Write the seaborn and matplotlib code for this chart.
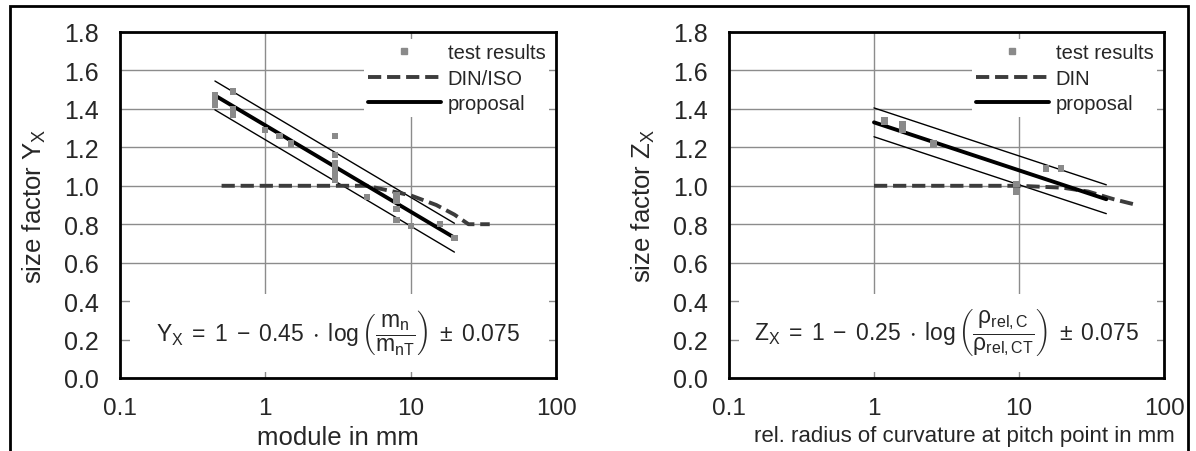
import numpy as np
import pandas as pd
import matplotlib
matplotlib.use("Agg")
import matplotlib.pyplot as plt
import seaborn as sns
from matplotlib.lines import Line2D
from matplotlib.patches import Rectangle
from matplotlib.ticker import FixedLocator, NullLocator

# --- Y_X : module (left panel) ---
yx_test_m = [0.45, 0.45, 0.45, 0.45, 0.6, 0.6, 0.6, 1.0, 1.25, 1.5,
             3, 3, 3, 3, 3, 3, 5, 8, 8, 8, 8, 10, 16, 20]
yx_test_y = [1.42, 1.44, 1.46, 1.47, 1.49, 1.40, 1.37, 1.29, 1.26, 1.22,
             1.26, 1.16, 1.12, 1.09, 1.06, 1.03, 0.94, 0.95, 0.92, 0.88, 0.82, 0.79, 0.80, 0.73]
yx_din_m = [0.5, 5, 10, 15, 20, 25, 35]
yx_din_y = [1.0, 1.0, 0.95, 0.90, 0.85, 0.80, 0.80]
yx_prop_m = [0.45, 20]
yx_prop_y = [1.47, 0.73]
yx_upper_y = [1.545, 0.805]
yx_lower_y = [1.395, 0.655]

# --- Z_X : rel. radius of curvature (right panel) ---
zx_test_r = [1.18, 1.18, 1.57, 1.57, 2.57, 9.6, 9.6, 15.3, 19.5]
zx_test_y = [1.34, 1.33, 1.32, 1.29, 1.22, 1.01, 0.97, 1.09, 1.09]
zx_din_r = [1, 10, 20, 30, 45, 65]
zx_din_y = [1.0, 1.0, 0.99, 0.97, 0.93, 0.90]
zx_prop_r = [1, 40]
zx_prop_y = [1.33, 0.93]
zx_upper_y = [1.405, 1.005]
zx_lower_y = [1.255, 0.855]

x_ticks = [0.1, 1, 10, 100]
x_ticklabels = ["0.1", "1", "10", "100"]
y_ticks = [0.0, 0.2, 0.4, 0.6, 0.8, 1.0, 1.2, 1.4, 1.6, 1.8]
y_ticklabels = ["0.0", "0.2", "0.4", "0.6", "0.8", "1.0", "1.2", "1.4", "1.6", "1.8"]

sns.set_style("white")
plt.rcParams["font.family"] = ["Liberation Sans", "DejaVu Sans"]
plt.rcParams["mathtext.fontset"] = "custom"
plt.rcParams["mathtext.rm"] = "Liberation Sans"
plt.rcParams["mathtext.it"] = "Liberation Sans:italic"
plt.rcParams["mathtext.bf"] = "Liberation Sans:bold"

TEST_C = "#8a8a8a"
DIN_C = "#3c3c3c"
GRID_C = "#8c8c8c"

fig = plt.figure(figsize=(11.96, 4.52), dpi=100)
ax1 = fig.add_axes([120 / 1196, 73 / 452, 436 / 1196, 346 / 452])
ax2 = fig.add_axes([729 / 1196, 73 / 452, 435 / 1196, 346 / 452])

panels = [
    (ax1, yx_test_m, yx_test_y, yx_din_m, yx_din_y, yx_prop_m, yx_prop_y, yx_upper_y, yx_lower_y,
     "DIN/ISO", r"size factor $\mathregular{Y_X}$", "module in mm", 18.5, 0.5,
     r"$\mathregular{Y_X\;=\;1\;-\;0.45\;\cdot\;\log\left(\dfrac{m_n}{m_{nT}}\right)\;\pm\;0.075}$"),
    (ax2, zx_test_r, zx_test_y, zx_din_r, zx_din_y, zx_prop_r, zx_prop_y, zx_upper_y, zx_lower_y,
     "DIN", r"size factor $\mathregular{Z_X}$", "rel. radius of curvature at pitch point in mm", 16, 0.54,
     r"$\mathregular{Z_X\;=\;1\;-\;0.25\;\cdot\;\log\left(\dfrac{\rho_{rel,C}}{\rho_{rel,CT}}\right)\;\pm\;0.075}$"),
]

for (ax, tx, ty, dx, dy, px, py, up, lo, din_label, ylabel, xlabel, xl_size, xl_pos, eq) in panels:
    ax.set_xscale("log")
    ax.set_xlim(0.1, 100)
    ax.set_ylim(0, 1.8)

    # tolerance band and proposal
    sns.lineplot(x=px, y=up, ax=ax, color="black", linewidth=1.0, estimator=None, sort=False, zorder=3)
    sns.lineplot(x=px, y=lo, ax=ax, color="black", linewidth=1.0, estimator=None, sort=False, zorder=3)
    sns.lineplot(x=dx, y=dy, ax=ax, color=DIN_C, linewidth=2.8, estimator=None, sort=False,
                 linestyle=(0, (3.4, 1.5)), zorder=4)
    sns.lineplot(x=px, y=py, ax=ax, color="black", linewidth=2.8, estimator=None, sort=False, zorder=5)
    sns.scatterplot(x=tx, y=ty, ax=ax, marker="s", s=20, color=TEST_C, edgecolor="none",
                    linewidth=0, zorder=6)

    ax.xaxis.set_major_locator(FixedLocator(x_ticks))
    ax.xaxis.set_minor_locator(NullLocator())
    ax.set_xticklabels(x_ticklabels, fontsize=17.5)
    ax.set_yticks(y_ticks)
    ax.set_yticklabels(y_ticklabels, fontsize=18)
    ax.tick_params(axis="both", direction="inout", length=15, width=1, color=GRID_C, pad=6)
    ax.tick_params(axis="y", pad=8)
    ax.grid(True, which="major", color=GRID_C, linewidth=1)
    ax.set_axisbelow(True)
    for sp in ax.spines.values():
        sp.set_color("black")
        sp.set_linewidth(2)

    ax.set_ylabel(ylabel, fontsize=18.5, labelpad=11)
    ax.set_xlabel(xlabel, fontsize=xl_size, labelpad=0)
    ax.xaxis.set_label_coords(xl_pos, -0.137)

    # white field behind the formula
    ax.add_patch(Rectangle((0.023, 0.017), 0.96, 0.225, transform=ax.transAxes,
                           facecolor="white", edgecolor="none", zorder=1))
    ax.text(0.5, 0.135, eq, transform=ax.transAxes, ha="center", va="center",
            fontsize=16.5, zorder=7)

    handles = [
        Line2D([], [], marker="s", markersize=4.5, linestyle="none", color=TEST_C),
        Line2D([], [], color=DIN_C, linewidth=2.8, linestyle=(0, (3.4, 1.5))),
        Line2D([], [], color="black", linewidth=2.8),
    ]
    leg = ax.legend(handles, ["test results", din_label, "proposal"], loc="upper right",
                    bbox_to_anchor=(0.985, 0.98), fontsize=14.5, frameon=True, fancybox=False,
                    framealpha=1, edgecolor="none", borderpad=0.2, labelspacing=0.33,
                    handlelength=3.6, handletextpad=0.35, borderaxespad=0)
    leg.get_frame().set_facecolor("white")
    leg.set_zorder(8)

# outer frame of the picture
fig.add_artist(Rectangle((10 / 1196, -0.1), 1178 / 1196, 1.1 - 7 / 452, transform=fig.transFigure,
                         fill=False, edgecolor="black", linewidth=2))

fig.savefig("out.png", dpi=100)
